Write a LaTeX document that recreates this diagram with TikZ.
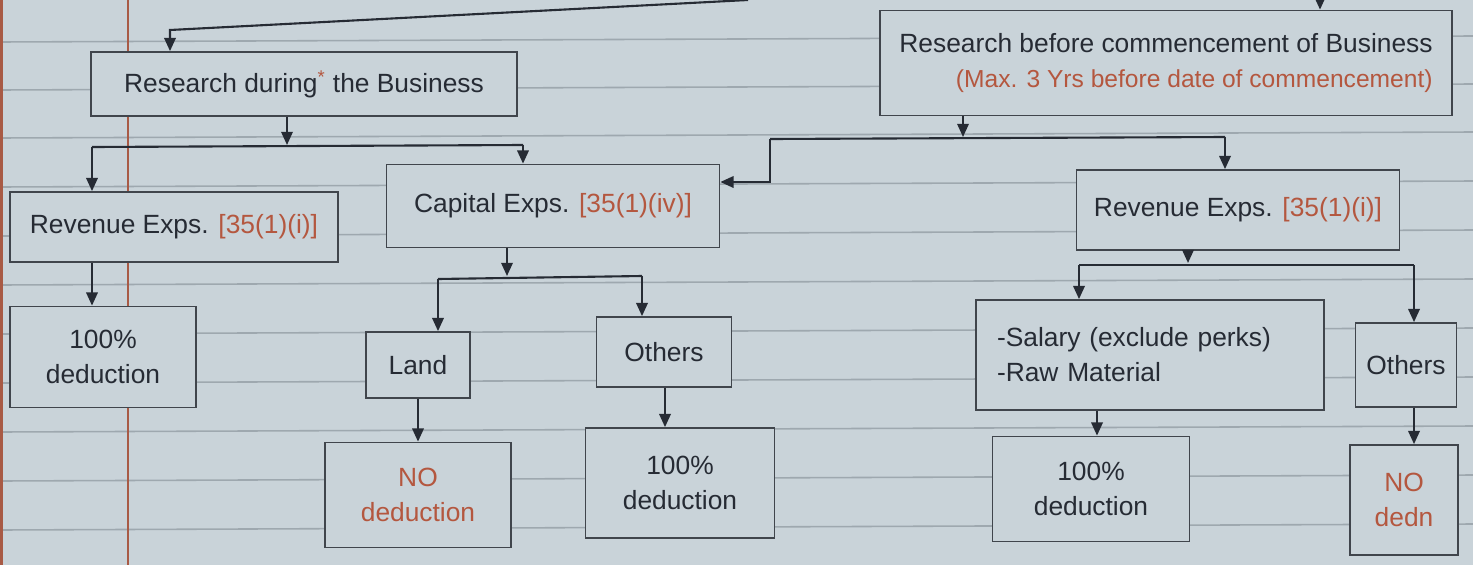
\documentclass[tikz,border=0pt]{standalone}
\usepackage{fontspec}
\setmainfont{Liberation Sans}
\usetikzlibrary{arrows.meta}
\definecolor{bg}{HTML}{C9D3D9}
\definecolor{rulec}{HTML}{9EA8AF}
\definecolor{ink}{HTML}{262B34}
\definecolor{redink}{HTML}{B4573F}
\definecolor{marginc}{HTML}{A85A45}
\definecolor{edge}{HTML}{40454C}
\begin{document}
\begin{tikzpicture}[x=0.02cm,y=-0.02cm,
  box/.style={draw=edge,line width=1pt,fill=bg,text=ink,inner sep=2pt,
    font=\fontsize{15}{20}\selectfont},
  arr/.style={draw=ink,line width=1.2pt,-{Triangle[length=7.5pt,width=6.5pt]}},
  ln/.style={draw=ink,line width=1.2pt},
  rl/.style={draw=rulec,line width=0.9pt}]
% page
\fill[bg] (0,0) rectangle (1473,565);
\useasboundingbox (0,0) rectangle (1473,565);
\foreach \yy in {42,90,138,187,236,285,334,383,432,481,530}
  \draw[rl] (0,\yy) -- (1473,\yy-6);
\draw[marginc,line width=1.1pt] (128,0) -- (128,565);
\fill[marginc] (0,0) rectangle (3,565);

% nodes
\node[box,minimum width=426*0.02cm,minimum height=64*0.02cm] (rd) at (304,84)
  {Research during\textsuperscript{\color{redink}*} the Business};
\node[box,minimum width=572*0.02cm,minimum height=105*0.02cm,align=right] (rb) at (1166,63)
  {Research before commencement of Business\\
   {\color{redink}\fontsize{14}{20}\selectfont(Max. 3 Yrs before date of commencement)}};
\node[box,minimum width=328*0.02cm,minimum height=70*0.02cm] (rev1) at (174,227)
  {Revenue Exps. {\color{redink}[35(1)(i)]}};
\node[box,minimum width=333*0.02cm,minimum height=83*0.02cm] (cap) at (553,206)
  {Capital Exps. {\color{redink}[35(1)(iv)]}};
\node[box,minimum width=323*0.02cm,minimum height=80*0.02cm] (rev2) at (1238,210)
  {Revenue Exps. {\color{redink}[35(1)(i)]}};
\node[box,minimum width=186*0.02cm,minimum height=101*0.02cm,align=center] (ded1) at (103,357)
  {100\%\\deduction};
\node[box,minimum width=104*0.02cm,minimum height=66*0.02cm] (land) at (418,365)
  {Land};
\node[box,minimum width=135*0.02cm,minimum height=70*0.02cm] (oth1) at (664,352)
  {Others};
\node[box,minimum width=186*0.02cm,minimum height=105*0.02cm,align=center] (nod) at (418,495)
  {{\color{redink}NO}\\{\color{redink}deduction}};
\node[box,minimum width=189*0.02cm,minimum height=110*0.02cm,align=center] (ded2) at (680,483)
  {100\%\\deduction};
\node[box,text width=306*0.02cm,inner xsep=12pt,minimum height=110*0.02cm,align=left] (sal) at (1150,355)
  {-Salary (exclude perks)\\-Raw Material};
\node[box,minimum width=101*0.02cm,minimum height=84*0.02cm] (oth2) at (1406,365)
  {Others};
\node[box,minimum width=197*0.02cm,minimum height=105*0.02cm,align=center] (ded3) at (1091,489)
  {100\%\\deduction};
\node[box,minimum width=108*0.02cm,minimum height=110*0.02cm,align=center] (nod2) at (1404,500)
  {{\color{redink}NO}\\{\color{redink}dedn}};

% connectors from above
\coordinate (tA) at (748,0);
\coordinate (tB) at (170,30);
\draw[arr] (tA) -- (tB) -- (tB |- rd.north);
\coordinate (tC) at (1320,0);
\draw[arr] (tC) -- (tC |- rb.north);

% research during -> split
\coordinate (j1) at (287,145);
\coordinate (j1L) at (92,147);
\coordinate (j1R) at (523,145);
\draw[arr] (j1 |- rd.south) -- (j1);
\draw[ln] (j1L) -- (j1R);
\draw[arr] (j1L) -- (j1L |- rev1.north);
\draw[arr] (j1R) -- (j1R |- cap.north);

% research before -> split
\coordinate (j2) at (963,137);
\coordinate (j2L) at (770,139);
\coordinate (j2R) at (1225,137);
\coordinate (jc) at (770,182);
\draw[arr] (j2 |- rb.south) -- (j2);
\draw[ln] (j2L) -- (j2R);
\draw[arr] (j2L) -- (jc) -- (jc -| cap.east);
\draw[arr] (j2R) -- (j2R |- rev2.north);

% revenue (left) -> 100%
\coordinate (k1) at (92,0);
\draw[arr] (k1 |- rev1.south) -- (k1 |- ded1.north);

% capital -> land / others
\coordinate (j3) at (507,276);
\coordinate (j3L) at (438,279);
\coordinate (j3R) at (642,276);
\draw[arr] (j3 |- cap.south) -- (j3);
\draw[ln] (j3L) -- (j3R);
\draw[arr] (j3L) -- (j3L |- land.north);
\draw[arr] (j3R) -- (j3R |- oth1.north);
\draw[arr] (land.south) -- (land.south |- nod.north);
\coordinate (k2) at (665,0);
\draw[arr] (k2 |- oth1.south) -- (k2 |- ded2.north);

% revenue (right) -> salary / others
\coordinate (j4) at (1188,263);
\coordinate (j4L) at (1079,265);
\coordinate (j4R) at (1414,265);
\draw[arr] (j4 |- rev2.south) -- (j4);
\draw[ln] (j4L) -- (j4R);
\draw[arr] (j4L) -- (j4L |- sal.north);
\draw[arr] (j4R) -- (j4R |- oth2.north);
\coordinate (k3) at (1097,0);
\draw[arr] (k3 |- sal.south) -- (k3 |- ded3.north);
\coordinate (k4) at (1414,0);
\draw[arr] (k4 |- oth2.south) -- (k4 |- nod2.north);
\end{tikzpicture}
\end{document}
